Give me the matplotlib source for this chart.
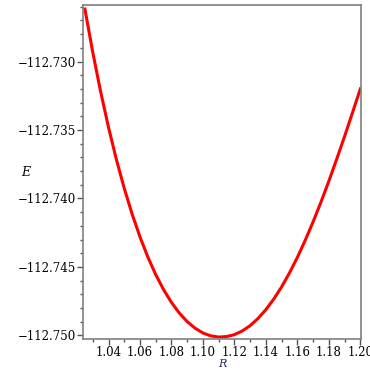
import matplotlib.pyplot as plt
from matplotlib.ticker import MultipleLocator, FuncFormatter

plt.rcParams["font.family"] = "DejaVu Serif"

# bond length R and energy E (every 0.005)
R = [1.025, 1.030, 1.035, 1.040, 1.045, 1.050, 1.055, 1.060, 1.065, 1.070,
     1.075, 1.080, 1.085, 1.090, 1.095, 1.100, 1.105, 1.110, 1.115, 1.120,
     1.125, 1.130, 1.135, 1.140, 1.145, 1.150, 1.155, 1.160, 1.165, 1.170,
     1.175, 1.180, 1.185, 1.190, 1.195, 1.200]
E = [-112.72617, -112.72934, -112.73221, -112.73481, -112.73716, -112.73926,
     -112.74114, -112.74281, -112.74428, -112.74556, -112.74666, -112.74759,
     -112.74837, -112.74899, -112.74947, -112.74982, -112.75003, -112.75012,
     -112.75008, -112.74994, -112.74967, -112.74928, -112.74876, -112.74811,
     -112.74734, -112.74645, -112.74543, -112.74430, -112.74305, -112.74170,
     -112.74026, -112.73873, -112.73712, -112.73546, -112.73374, -112.73200]

fig = plt.figure(figsize=(3.7, 3.7), dpi=100)
ax = fig.add_axes([0.224, 0.083, 0.752, 0.904])

ax.plot(R, E, color='red', linewidth=2.2, solid_joinstyle='round')

ax.set_xlim(1.0237, 1.2005)
ax.set_ylim(-112.75028, -112.72586)

ax.xaxis.set_major_locator(MultipleLocator(0.02))
ax.xaxis.set_minor_locator(MultipleLocator(0.01))
ax.yaxis.set_major_locator(MultipleLocator(0.005))
ax.yaxis.set_minor_locator(MultipleLocator(0.001))
ax.xaxis.set_major_formatter(FuncFormatter(lambda v, p: f"{v:.2f}"))
ax.yaxis.set_major_formatter(FuncFormatter(lambda v, p: f"{v:.3f}".replace('-', '\u2212')))

for s in ax.spines.values():
    s.set_color('#808080')
    s.set_linewidth(1.2)

ax.tick_params(which='major', length=4, width=1, color='#555555', labelsize=8.5, pad=1)
ax.tick_params(which='minor', length=2.5, width=1, color='#555555')

ax.set_xlabel('R', fontsize=8, style='italic', color='#1a2a5a', labelpad=0)
ax.set_ylabel('E', fontsize=9, style='italic', rotation=0, va='center')
ax.yaxis.set_label_coords(-0.205, 0.50)

fig.savefig('out.png', dpi=100)
